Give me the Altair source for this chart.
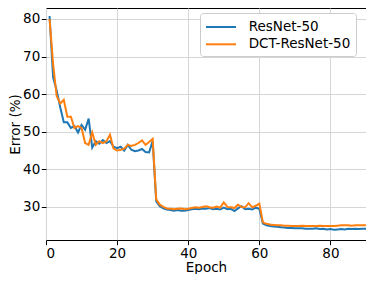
import altair as alt
import pandas as pd

epochs = list(range(1, 91))

resnet = [
    80.8, 64.5, 61.0, 56.5, 52.5, 52.5, 51.0, 51.5, 49.8, 51.8,
    50.5, 53.5, 45.8, 47.5, 46.8, 47.8, 47.0, 47.5, 46.0, 45.6,
    46.0, 45.0, 46.5, 45.2, 44.8, 45.0, 45.4, 44.6, 44.5, 47.5,
    31.5, 30.2, 29.6, 29.3, 29.2, 29.0, 29.2, 29.0, 29.0, 29.2,
    29.4, 29.5, 29.4, 29.6, 29.5, 29.7, 29.4, 29.5, 29.3, 29.8,
    29.4, 29.5, 28.9, 29.6, 30.2, 29.4, 29.5, 29.3, 29.8, 29.5,
    25.6, 25.1, 24.9, 24.8, 24.7, 24.6, 24.5, 24.4, 24.4, 24.3,
    24.3, 24.3, 24.2, 24.2, 24.2, 24.3, 24.1, 24.2, 24.0, 24.1,
    23.9, 24.0, 24.1, 24.0, 24.2, 24.1, 24.2, 24.1, 24.2, 24.2,
]

dct_resnet = [
    80.0, 68.0, 59.5, 57.5, 58.5, 54.0, 54.0, 51.0, 51.5, 51.0,
    47.0, 46.5, 49.8, 46.5, 47.5, 47.0, 47.5, 49.2, 45.5, 45.0,
    45.2, 45.5, 46.5, 46.2, 46.5, 47.0, 47.7, 46.5, 47.3, 48.1,
    32.0, 30.6, 30.0, 29.6, 29.5, 29.4, 29.5, 29.6, 29.4, 29.5,
    29.7, 29.9, 29.8, 30.0, 30.2, 29.9, 29.8, 30.1, 29.8, 31.2,
    30.0, 29.9, 29.7, 30.6, 30.0, 29.9, 31.0, 29.9, 30.3, 30.9,
    25.9, 25.5, 25.3, 25.2, 25.1, 25.1, 25.0, 25.0, 24.9, 24.9,
    24.9, 25.0, 24.9, 24.9, 24.9, 24.9, 25.0, 24.9, 24.9, 24.9,
    24.9, 25.0, 25.1, 25.1, 25.1, 25.0, 25.1, 25.1, 25.1, 25.1,
]

series_names = ["ResNet-50", "DCT-ResNet-50"]
series_colors = ["#1f77b4", "#ff7f0e"]
x_ticks = [0, 20, 40, 60, 80]
y_ticks = [30, 40, 50, 60, 70, 80]

df = pd.concat([
    pd.DataFrame({"Epoch": epochs, "Error": resnet, "Model": series_names[0]}),
    pd.DataFrame({"Epoch": epochs, "Error": dct_resnet, "Model": series_names[1]}),
])

FONT = "DejaVu Sans"

color = alt.Color(
    "Model:N",
    scale=alt.Scale(domain=series_names, range=series_colors),
    legend=alt.Legend(
        orient="none", legendX=154, legendY=5, title=None,
        symbolType="M-1,0H2.75", symbolSize=256, symbolStrokeWidth=2,
        labelFontSize=13.5, labelFont=FONT, labelColor="black",
        labelOffset=25.7, padding=5, rowPadding=1.3,
        strokeColor="#cccccc", cornerRadius=3, fillColor="white",
    ),
)

base = alt.Chart(df).mark_line(strokeWidth=2).encode(
    x=alt.X("Epoch:Q", scale=alt.Scale(domain=[0, 90], nice=False, zero=False),
            axis=alt.Axis(values=x_ticks, title="Epoch", labelPadding=1.5, titlePadding=1)),
    y=alt.Y("Error:Q", scale=alt.Scale(domain=[21.2, 82.92], nice=False, zero=False),
            axis=alt.Axis(values=y_ticks, title="Error (%)", labelPadding=1.5, titlePadding=0.5)),
    color=color,
)

chart = alt.layer(
    base.transform_filter(alt.datum.Model == series_names[0]),
    base.transform_filter(alt.datum.Model == series_names[1]),
).properties(
    width=320, height=232,
    autosize=alt.AutoSizeParams(type="none"),
    padding={"left": 38, "top": 0, "right": 0, "bottom": 34},
).configure_view(
    stroke="black", strokeWidth=1,
).configure_axis(
    domain=False, tickColor="black", tickSize=4.7, tickWidth=1,
    labelColor="black", labelFont=FONT, labelFontSize=13.5,
    titleColor="black", titleFont=FONT, titleFontSize=13.5, titleFontWeight="normal",
    grid=True, gridColor="#d6d6d6", gridWidth=1,
)

chart.save("out.html", embed_options={"renderer": "svg", "actions": False})
